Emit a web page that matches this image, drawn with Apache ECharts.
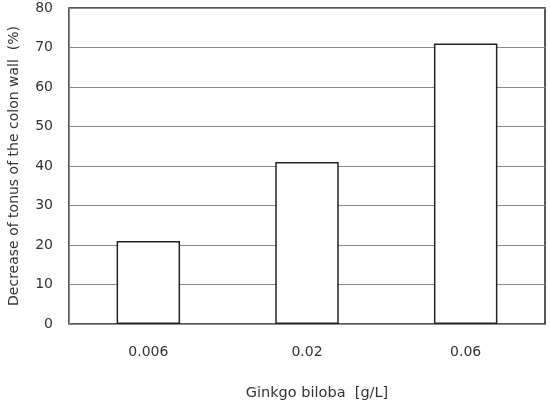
<!DOCTYPE html>
<html>
<head>
<meta charset="utf-8">
<script src="https://cdn.jsdelivr.net/npm/echarts@6/dist/echarts.min.js"></script>
<style>
    html, body { margin: 0; padding: 0; background: #fff; }
    #chart { width: 550px; height: 405px; }
</style>
</head>
<body>
<div id="chart"></div>
<script>
var doses = ['0.006', '0.02', '0.06'];
var decrease = [21, 41, 71];
var yTicks = [0, 10, 20, 30, 40, 50, 60, 70, 80];

var myChart = echarts.init(document.getElementById('chart'));
var font = 'DejaVu Sans, sans-serif';
var option = {
    animation: false,
    grid: {
        left: 69,
        right: 5,
        top: 8,
        bottom: 81,
        outerBoundsMode: 'none',
        show: true,
        borderColor: '#222',
        borderWidth: 1.5
    },
    xAxis: {
        type: 'category',
        data: doses,
        name: 'Ginkgo biloba  [g/L]',
        nameLocation: 'middle',
        nameGap: 62,
        nameTextStyle: { color: '#333', fontSize: 14.5, fontFamily: font, padding: [0, 0, 0, 20] },
        axisLine: { lineStyle: { color: '#888', width: 1 } },
        axisTick: { inside: true, length: 4, lineStyle: { color: '#bbb' } },
        axisLabel: { color: '#333', fontSize: 14, fontFamily: font, margin: 21 }
    },
    yAxis: {
        type: 'value',
        min: yTicks[0],
        max: yTicks[yTicks.length - 1],
        interval: 10,
        name: 'Decrease of tonus of the colon wall  (%)',
        nameLocation: 'middle',
        nameGap: 48,
        nameTextStyle: { color: '#333', fontSize: 14, fontFamily: font },
        axisLine: { show: true, lineStyle: { color: '#888', width: 1 } },
        axisTick: { show: false },
        axisLabel: { color: '#333', fontSize: 14, fontFamily: font, margin: 16 },
        splitLine: { lineStyle: { color: '#888', width: 1 } }
    },
    series: [
        {
            type: 'bar',
            data: decrease,
            barWidth: '40%',
            itemStyle: { color: '#fff', borderColor: '#222', borderWidth: 1.5 }
        }
    ]
};
myChart.setOption(option, true);
</script>
</body>
</html>
